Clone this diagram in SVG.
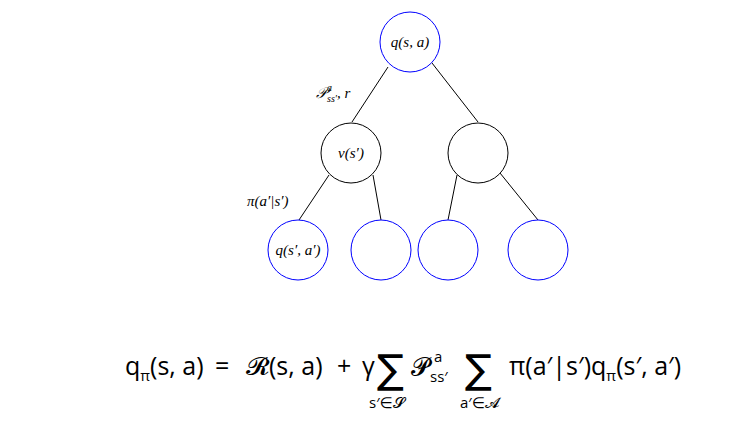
<svg xmlns="http://www.w3.org/2000/svg" width="735" height="426" viewBox="0 0 735 426">
<style>
.b{fill:#fff;stroke:#0000ff;stroke-width:1}
.k{fill:#fff;stroke:#000;stroke-width:1}
.t{font-family:"Liberation Serif",serif;font-style:italic;font-size:15px;fill:#000}
.e{font-family:"Open Sans","DejaVu Sans",sans-serif;font-size:25px;fill:#000}
.s{font-family:"Open Sans","DejaVu Sans",sans-serif;font-size:15px;fill:#000}
.g{font-family:"DejaVu Sans",sans-serif;font-size:40px;fill:#000}
</style>
<rect width="735" height="426" fill="#fff"/>
<g id="connectors" stroke="#000" stroke-width="1">
<line x1="388" y1="67" x2="352" y2="122"/>
<line x1="432" y1="63" x2="478" y2="122"/>
<line x1="329" y1="175" x2="299" y2="220"/>
<line x1="373" y1="175" x2="381" y2="220"/>
<line x1="457" y1="175" x2="448" y2="220"/>
<line x1="500" y1="173" x2="538" y2="220"/>
</g>
<g id="n0"><circle class="b" cx="410" cy="42" r="30"/><text class="t" x="410" y="47" text-anchor="middle">q(s, a)</text></g>
<g id="n1"><circle class="k" cx="351" cy="153" r="30"/><text class="t" x="351" y="158" text-anchor="middle">v(s′)</text></g>
<g id="n2"><circle class="k" cx="478" cy="153" r="30"/></g>
<g id="n3"><circle class="b" cx="298" cy="250" r="30"/><text class="t" x="298" y="255" text-anchor="middle">q(s′, a′)</text></g>
<g id="n4"><circle class="b" cx="381" cy="250" r="30"/></g>
<g id="n5"><circle class="b" cx="448" cy="250" r="30"/></g>
<g id="n6"><circle class="b" cx="538" cy="250" r="30"/></g>
<g id="labels">
<text class="t" x="316" y="98">𝒫<tspan font-size="10" dy="-7">a</tspan><tspan font-size="10" dx="-5" dy="11">ss′</tspan><tspan dy="-4">, r</tspan></text>
<text class="t" x="247" y="206">π(a′|s′)</text>
</g>
<g id="equation">
<text class="e" x="125" y="375">q<tspan class="s" dy="6">π</tspan><tspan dy="-6">(s, a)</tspan></text>
<text class="e" x="215" y="375">=</text>
<text class="e" x="246" y="375">𝓡(s, a)</text>
<text class="e" x="337" y="375">+</text>
<text class="e" x="362" y="375">γ</text>
<text class="g" x="377" y="383">∑</text>
<text class="s" x="369" y="408">s′∈𝓢</text>
<text class="e" x="411" y="375">𝓟</text>
<text class="s" x="434" y="362">a</text>
<text class="s" x="430" y="382">ss′</text>
<text class="g" x="465" y="383">∑</text>
<text class="s" x="460" y="408">a′∈𝓐</text>
<text class="e" x="509" y="375">π(a′|s′)q<tspan class="s" dy="6">π</tspan><tspan dy="-6">(s′, a′)</tspan></text>
</g>
</svg>
